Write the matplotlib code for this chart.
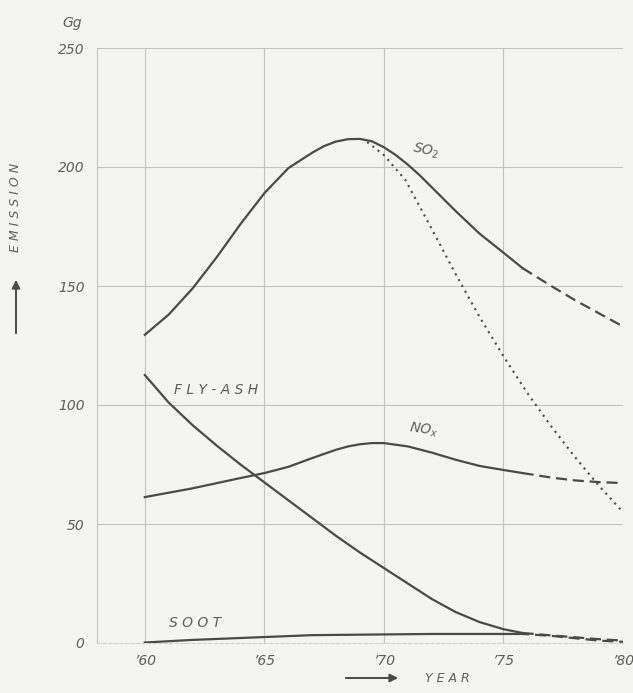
import numpy as np
import matplotlib.pyplot as plt

# values (Gg per year)
so2_years = [1960, 1961, 1962, 1963, 1964, 1965, 1966, 1967, 1967.5, 1968, 1968.5,
             1969, 1969.5, 1970, 1970.5, 1971, 1971.5, 1972, 1973, 1974, 1975, 1975.8]
so2_vals = [129.5, 138, 149, 162, 176, 189, 199.5, 206, 208.8, 210.7, 211.7,
            211.8, 210.8, 208.3, 205, 201, 196.5, 191.5, 181.5, 172, 164, 157.5]
so2_fc_years = [1975.8, 1977, 1978, 1979, 1980]
so2_fc_vals = [157.5, 150, 144, 138.5, 133]
so2_alt_years = [1969.3, 1970, 1970.9, 1972, 1973, 1974, 1975, 1976, 1977, 1978, 1979, 1980]
so2_alt_vals = [210.5, 205, 194.5, 174, 155, 137, 120.5, 105, 91, 78, 66, 55]

nox_years = [1960, 1962, 1964, 1965, 1966, 1967, 1968, 1968.5, 1969, 1969.5, 1970,
             1971, 1972, 1973, 1974, 1975, 1975.8]
nox_vals = [61.3, 65, 69.3, 71.4, 74, 77.7, 81.2, 82.6, 83.5, 84, 84,
            82.6, 80, 77, 74.4, 72.7, 71.4]
nox_fc_years = [1975.8, 1977, 1978, 1979, 1980]
nox_fc_vals = [71.4, 69.5, 68.3, 67.6, 67.2]

ash_years = [1960, 1961, 1962, 1963, 1964, 1965, 1966, 1967, 1968, 1969, 1970,
             1971, 1972, 1973, 1974, 1975, 1975.8]
ash_vals = [112.6, 101, 91.5, 83, 75, 67.5, 60, 52.5, 45, 38, 31.5,
            25, 18.5, 13, 8.8, 5.8, 4.2]
ash_fc_years = [1975.8, 1977, 1978, 1979, 1980]
ash_fc_vals = [4.2, 3.2, 2.4, 1.6, 1.0]

soot_years = [1960, 1962, 1965, 1967, 1970, 1972, 1975, 1975.8]
soot_vals = [0.2, 1.3, 2.5, 3.3, 3.6, 3.8, 3.8, 3.8]
soot_fc_years = [1975.8, 1977, 1978, 1979, 1980]
soot_fc_vals = [3.8, 3.0, 2.0, 1.0, 0.5]

x_ticks = [1960, 1965, 1970, 1975, 1980]
x_labels = ["\u201960", "\u201965", "\u201970", "\u201975", "\u201980"]
y_ticks = [0, 50, 100, 150, 200, 250]

bg = "#f4f4f1"
ink = "#4a4a4a"
grid = "#c2c2bf"
txt = "#5e5e5e"

W, H = 633, 693
fig = plt.figure(figsize=(W / 100, H / 100), dpi=100, facecolor=bg)
ax = fig.add_axes([97 / W, 1 - 643 / H, (623 - 97) / W, (643 - 48) / H])
ax.set_facecolor(bg)
ax.set_xlim(1958, 1980)
ax.set_ylim(0, 250)

# grid drawn by hand, like the paper original
for x in x_ticks:
    ax.axvline(x, color=grid, lw=0.8, zorder=1)
for y in y_ticks[1:]:
    ax.axhline(y, color=grid, lw=0.8, zorder=1)

for s in ["top", "right"]:
    ax.spines[s].set_visible(False)
ax.spines["left"].set_color(grid)
ax.spines["left"].set_linewidth(0.8)
ax.spines["bottom"].set_color("#d2d2cf")
ax.spines["bottom"].set_linewidth(0.8)
ax.spines["bottom"].set_linestyle((0, (3, 2)))

lw = 1.6
dash = (0, (5, 2.6))
ax.plot(so2_years, so2_vals, color=ink, lw=lw, zorder=3)
ax.plot(so2_fc_years, so2_fc_vals, color=ink, lw=lw, ls=dash, zorder=3)
ax.plot(so2_alt_years, so2_alt_vals, color=ink, lw=1.5, ls=(0, (1, 2.2)), zorder=3)
ax.plot(nox_years, nox_vals, color=ink, lw=lw, zorder=3)
ax.plot(nox_fc_years, nox_fc_vals, color=ink, lw=lw, ls=dash, zorder=3)
ax.plot(ash_years, ash_vals, color=ink, lw=lw, zorder=3)
ax.plot(ash_fc_years, ash_fc_vals, color=ink, lw=lw, ls=dash, zorder=3)
ax.plot(soot_years, soot_vals, color=ink, lw=lw, zorder=3)
ax.plot(soot_fc_years, soot_fc_vals, color=ink, lw=lw, ls=(2, (5, 2.6)), zorder=3)

ax.set_xticks(x_ticks)
ax.set_xticklabels(x_labels)
ax.set_yticks(y_ticks)
ax.tick_params(length=0, labelsize=10, labelcolor=txt)
ax.tick_params(axis="y", pad=9)
ax.tick_params(axis="x", pad=8)
for lab in ax.get_xticklabels() + ax.get_yticklabels():
    lab.set_fontstyle("italic")

lbl = dict(color=txt, fontsize=10, fontstyle="italic", ha="center", va="center", zorder=4)
ax.text(1971.75, 207, "SO$_2$", rotation=-12, **lbl)
ax.text(1971.67, 89.5, "NO$_x$", rotation=-8, **lbl)
ax.text(1963.0, 106.3, "F L Y - A S H", **lbl)
ax.text(1962.1, 8.4, "S O O T", **lbl)

fig.text(72 / W, 1 - 23 / H, "Gg", color=txt, fontsize=10, fontstyle="italic",
         ha="center", va="center")
fig.text(16 / W, 1 - 207 / H, "E M I S S I O N", color=txt, fontsize=9,
         fontstyle="italic", rotation=90, ha="center", va="center")
fig.text(447 / W, 1 - 678 / H, "Y E A R", color=txt, fontsize=9,
         fontstyle="italic", ha="center", va="center")
ax.annotate("", xy=(16 / W, 1 - 277 / H), xytext=(16 / W, 1 - 336 / H),
            xycoords="figure fraction", textcoords="figure fraction",
            arrowprops=dict(arrowstyle="-|>", color=ink, lw=1.4, mutation_scale=12))
ax.annotate("", xy=(401 / W, 1 - 678 / H), xytext=(343 / W, 1 - 678 / H),
            xycoords="figure fraction", textcoords="figure fraction",
            arrowprops=dict(arrowstyle="-|>", color=ink, lw=1.4, mutation_scale=12))

fig.savefig("out.png", dpi=100, facecolor=bg)
